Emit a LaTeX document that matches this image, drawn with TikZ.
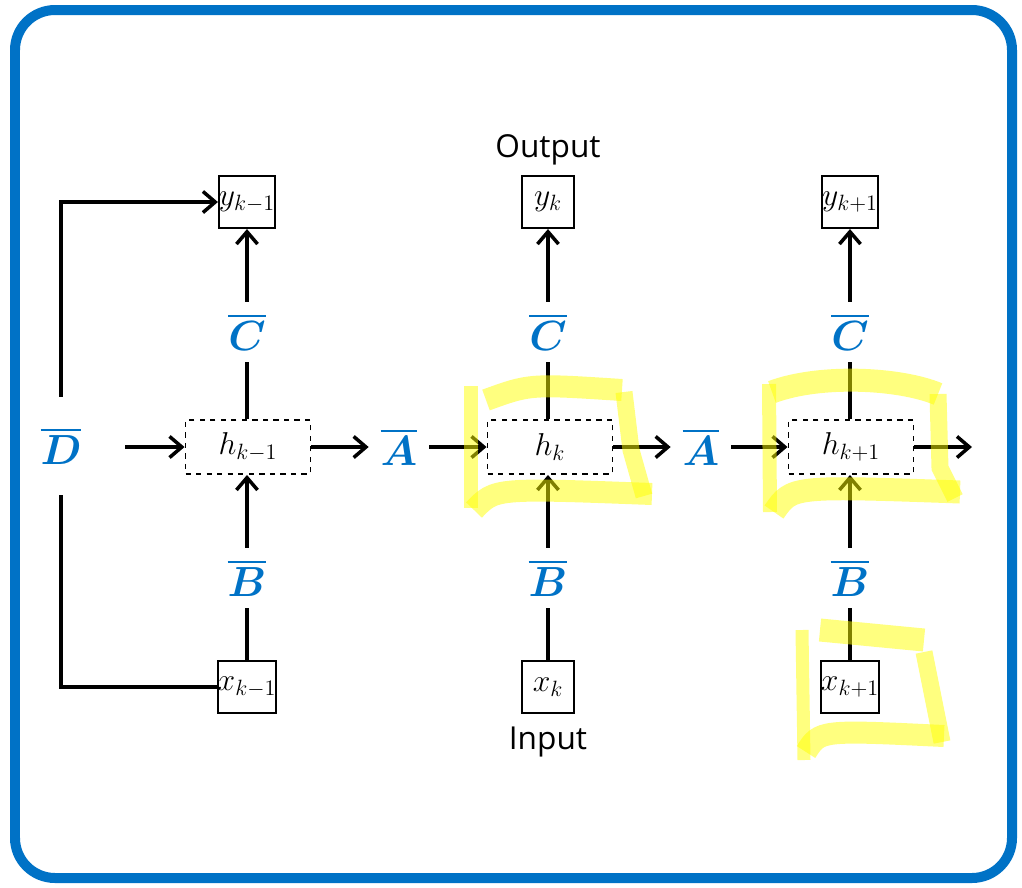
\RequirePackage{fix-cm}
\documentclass[tikz,border=0pt]{standalone}
\usepackage{amsmath, amssymb}
\usepackage{fontspec}
\newfontfamily\capfont{Open Sans}
\usepackage{xcolor}
\usepackage{tikz}
\usetikzlibrary{arrows.meta, positioning}

\definecolor{ssmblue}{RGB}{0,114,198}
\definecolor{hiliteyellow}{RGB}{255,255,0}

\tikzset{
    >={Straight Barb[length=7pt, width=12pt]},
    cellbox/.style={rectangle, draw, line width=1.2pt, minimum width=1.04cm, minimum height=1.04cm, inner sep=0pt, font=\fontsize{18}{20}\selectfont},
    statebox/.style={rectangle, draw, dashed, line width=1.1pt, minimum width=2.5cm, minimum height=1.08cm, inner sep=0pt, font=\fontsize{18}{20}\selectfont},
    matlbl/.style={minimum size=1.2cm, inner sep=0pt, text=ssmblue, font=\fontsize{24}{28}\selectfont},
    wire/.style={line width=2pt},
    hilite/.style={draw=hiliteyellow, opacity=0.5, line width=0.34cm}
}

\begin{document}
\begin{tikzpicture}[x=0.02cm, y=-0.02cm]
    \useasboundingbox (0,0) rectangle (1022,887);
    % Frame
    \draw[ssmblue, line width=0.2cm, rounded corners=0.8cm] (15,10) rectangle (1012,878);

    % Step k-1
    \node[cellbox] (y1) at (247,202) {$y_{k-1}$};
    \node[matlbl] (c1) at (247,332) {$\overline{\boldsymbol{C}}$};
    \node[statebox] (h1) at (248,447) {$h_{k-1}$};
    \node[matlbl] (b1) at (247,578) {$\overline{\boldsymbol{B}}$};
    \node[cellbox] (x1) at (247,687) {$x_{k-1}$};
    \node[matlbl] (a1) at (399,447) {$\overline{\boldsymbol{A}}$};

    % Step k
    \node[cellbox] (y2) at (548,202) {$y_{k}$};
    \node[font=\capfont\fontsize{18}{20}\selectfont, above=0.08cm of y2] (outlbl) {Output};
    \node[matlbl] (c2) at (548,332) {$\overline{\boldsymbol{C}}$};
    \node[statebox] (h2) at (550,447) {$h_{k}$};
    \node[matlbl] (b2) at (548,578) {$\overline{\boldsymbol{B}}$};
    \node[cellbox] (x2) at (548,687) {$x_{k}$};
    \node[font=\capfont\fontsize{18}{20}\selectfont, below=0.14cm of x2] (inlbl) {Input};
    \node[matlbl] (a2) at (701,447) {$\overline{\boldsymbol{A}}$};

    % Step k+1
    \node[cellbox] (y3) at (850,202) {$y_{k+1}$};
    \node[matlbl] (c3) at (850,332) {$\overline{\boldsymbol{C}}$};
    \node[statebox] (h3) at (851,447) {$h_{k+1}$};
    \node[matlbl] (b3) at (850,578) {$\overline{\boldsymbol{B}}$};
    \node[cellbox] (x3) at (850,687) {$x_{k+1}$};

    % Skip term
    \node[matlbl, minimum height=1.96cm] (d1) at (61,446) {$\overline{\boldsymbol{D}}$};
    \coordinate (hin) at (125,447);
    \coordinate (hout) at (972,447);

    % Connectors
    \draw[wire, ->] (hin) -- (h1);
    \draw[wire, ->] (h1) -- (a1);
    \draw[wire, ->] (a1) -- (h2);
    \draw[wire, ->] (h2) -- (a2);
    \draw[wire, ->] (a2) -- (h3);
    \draw[wire, ->] (h3) -- (hout);
    \foreach \i in {1,2,3} {
        \draw[wire] (h\i.north -| c\i) -- (c\i);
        \draw[wire, ->] (c\i) -- (y\i);
        \draw[wire] (x\i) -- (b\i);
        \draw[wire, ->] (b\i) -- (h\i.south -| b\i);
    }
    \draw[wire, ->] (d1.north) |- (y1.west);
    \draw[wire] (d1.south) |- (x1.west);

    % Highlighter marks
    \draw[hilite, line width=0.28cm] (471,386) -- (471,508);
    \draw[hilite, line width=0.44cm] (486,400) .. controls (530,384) .. (622,390);
    \draw[hilite] (624,392) -- (631,450) -- (644,496);
    \draw[hilite, line width=0.44cm] (474,510) .. controls (495,488) .. (652,494);

    \draw[hilite, line width=0.28cm] (769,384) -- (770,512);
    \draw[hilite, line width=0.46cm] (772,392) .. controls (820,374) and (900,378) .. (938,394);
    \draw[hilite] (938,394) -- (940,468) -- (955,498);
    \draw[hilite, line width=0.46cm] (774,512) .. controls (792,486) .. (960,492);

    \draw[hilite, line width=0.26cm] (802,630) -- (804,760);
    \draw[hilite, line width=0.46cm] (820,630) -- (924,640);
    \draw[hilite] (924,652) -- (942,742);
    \draw[hilite, line width=0.44cm] (806,752) .. controls (820,730) .. (944,736);
\end{tikzpicture}
\end{document}
